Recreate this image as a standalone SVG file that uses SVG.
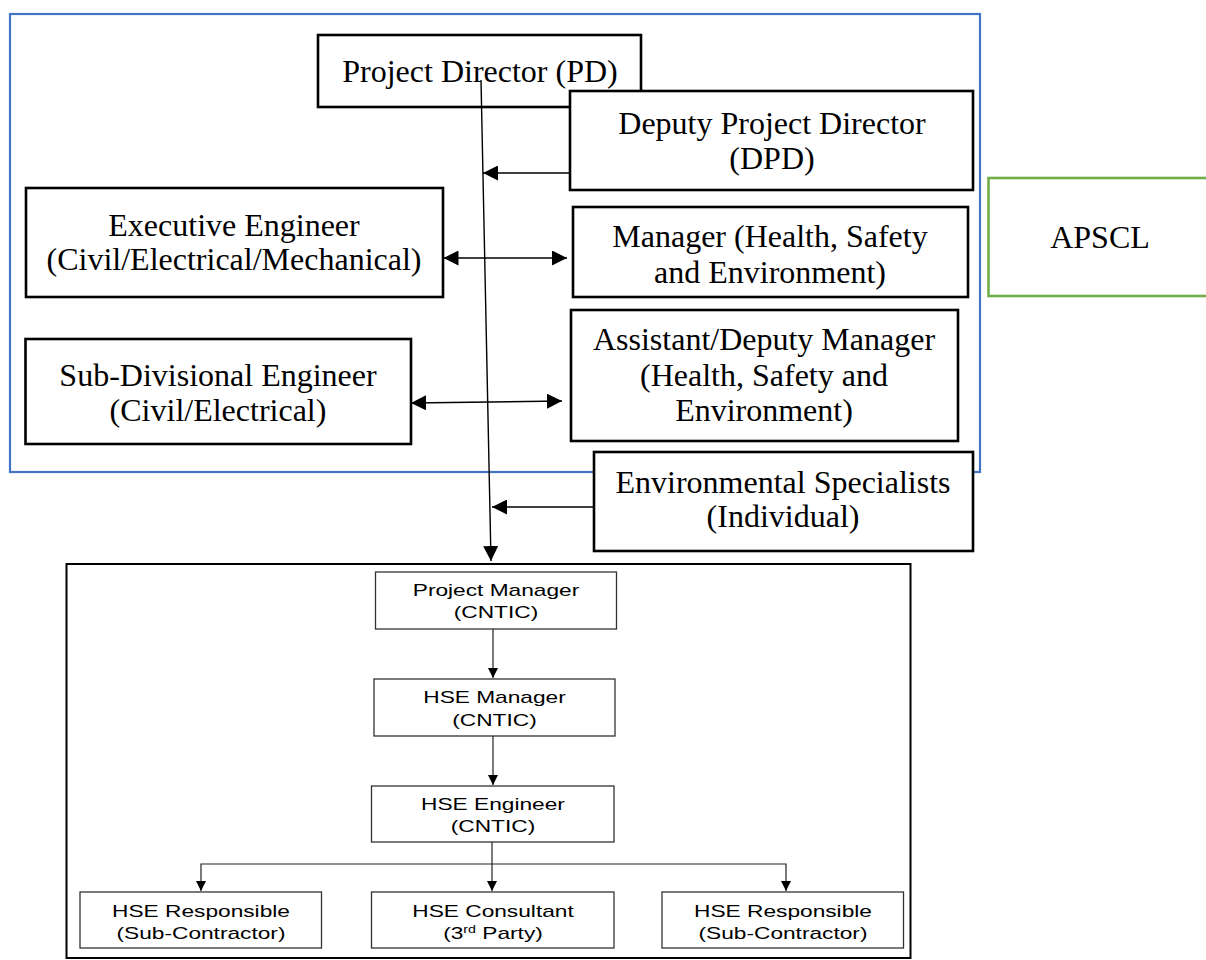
<svg xmlns="http://www.w3.org/2000/svg" width="1206" height="960" viewBox="0 0 1206 960">
<style>
.bx{fill:#fff;stroke:#000;stroke-width:2.6}
.sb{fill:#fff;stroke:#333;stroke-width:1.3}
.t{font-family:"Liberation Serif","Times New Roman",serif;font-size:32px;fill:#000;text-anchor:middle}
.s{font-family:"Liberation Sans",Arial,sans-serif;font-size:16px;fill:#000;text-anchor:middle}
.ln{fill:none;stroke:#000;stroke-width:1.4}
.ls{fill:none;stroke:#222;stroke-width:1.2}
</style>
<defs>
<marker id="ah" viewBox="0 0 10 10" refX="10" refY="5" markerWidth="10" markerHeight="10" markerUnits="userSpaceOnUse" orient="auto-start-reverse">
<path d="M0,0 L10,5 L0,10 z" fill="#000"/>
</marker>
<marker id="ab" viewBox="0 0 10 10" refX="10" refY="5" markerWidth="15" markerHeight="15" markerUnits="userSpaceOnUse" orient="auto-start-reverse">
<path d="M0,0 L10,5 L0,10 z" fill="#000"/>
</marker>
</defs>
<rect width="1206" height="960" fill="#fff"/>
<rect id="apscl-frame" x="10" y="14" width="970" height="458" fill="none" stroke="#4472C4" stroke-width="2.2"/>
<g id="apscl">
<rect x="988.5" y="178" width="230" height="118" fill="#fff" stroke="#70AD47" stroke-width="2.6"/>
<text class="t" x="1100" y="248">APSCL</text>
</g>
<g id="pd">
<rect class="bx" x="318" y="35" width="323" height="72"/>
<text class="t" x="480" y="82">Project Director (PD)</text>
</g>
<g id="dpd">
<rect class="bx" x="570" y="91" width="403" height="99"/>
<text class="t" x="772" y="134">Deputy Project Director</text>
<text class="t" x="772" y="169">(DPD)</text>
</g>
<g id="exec">
<rect class="bx" x="26" y="188" width="417" height="109"/>
<text class="t" x="234" y="236">Executive Engineer</text>
<text class="t" x="234" y="270">(Civil/Electrical/Mechanical)</text>
</g>
<g id="mhse">
<rect class="bx" x="573" y="207" width="395" height="90"/>
<text class="t" x="770" y="247">Manager (Health, Safety</text>
<text class="t" x="770" y="283">and Environment)</text>
</g>
<g id="sde">
<rect class="bx" x="25.5" y="339" width="385.5" height="105"/>
<text class="t" x="218" y="386">Sub-Divisional Engineer</text>
<text class="t" x="218" y="421">(Civil/Electrical)</text>
</g>
<g id="adm">
<rect class="bx" x="571" y="310" width="387" height="131"/>
<text class="t" x="764" y="350">Assistant/Deputy Manager</text>
<text class="t" x="764" y="386">(Health, Safety and</text>
<text class="t" x="764" y="421">Environment)</text>
</g>
<g id="env">
<rect class="bx" x="594" y="452" width="379" height="99"/>
<text class="t" x="783" y="493">Environmental Specialists</text>
<text class="t" x="783" y="527">(Individual)</text>
</g>
<rect id="cntic-frame" x="66.5" y="564" width="844" height="394" fill="none" stroke="#000" stroke-width="2"/>
<g id="pm">
<rect class="sb" x="375.5" y="572" width="241" height="57"/>
<g transform="translate(496 0) scale(1.42 1)"><text class="s" x="0" y="596">Project Manager</text><text class="s" x="0" y="618">(CNTIC)</text></g>
</g>
<g id="hsem">
<rect class="sb" x="374" y="679" width="241" height="57"/>
<g transform="translate(494.5 0) scale(1.42 1)"><text class="s" x="0" y="703">HSE Manager</text><text class="s" x="0" y="726">(CNTIC)</text></g>
</g>
<g id="hsee">
<rect class="sb" x="371.5" y="786" width="242.5" height="56"/>
<g transform="translate(493 0) scale(1.42 1)"><text class="s" x="0" y="810">HSE Engineer</text><text class="s" x="0" y="832">(CNTIC)</text></g>
</g>
<g id="hser1">
<rect class="sb" x="80" y="892" width="241.5" height="56"/>
<g transform="translate(201 0) scale(1.42 1)"><text class="s" x="0" y="917">HSE Responsible</text><text class="s" x="0" y="939">(Sub-Contractor)</text></g>
</g>
<g id="hsec">
<rect class="sb" x="371.5" y="892" width="242.5" height="56"/>
<g transform="translate(493 0) scale(1.42 1)"><text class="s" x="0" y="917">HSE Consultant</text><text class="s" x="0" y="939">(3<tspan font-size="10" baseline-shift="6">rd</tspan> Party)</text></g>
</g>
<g id="hser2">
<rect class="sb" x="662" y="892" width="241.5" height="56"/>
<g transform="translate(783 0) scale(1.42 1)"><text class="s" x="0" y="917">HSE Responsible</text><text class="s" x="0" y="939">(Sub-Contractor)</text></g>
</g>
<g id="connectors">
<path class="ln" d="M481,80 L491,561" marker-end="url(#ab)"/>
<path class="ln" d="M570,173 L483,173" marker-end="url(#ab)"/>
<path class="ln" d="M443.5,258 L567,258" marker-start="url(#ab)" marker-end="url(#ab)"/>
<path class="ln" d="M411,403 L562,401" marker-start="url(#ab)" marker-end="url(#ab)"/>
<path class="ln" d="M594,507 L492,507" marker-end="url(#ab)"/>
<path class="ls" d="M493,629 L493,678" marker-end="url(#ah)"/>
<path class="ls" d="M493,736 L493,785" marker-end="url(#ah)"/>
<path class="ls" d="M492,842 L492,891" marker-end="url(#ah)"/>
<path class="ls" d="M201,891 L201,864 L786,864 L786,891" marker-start="url(#ah)" marker-end="url(#ah)"/>
</g>
</svg>
